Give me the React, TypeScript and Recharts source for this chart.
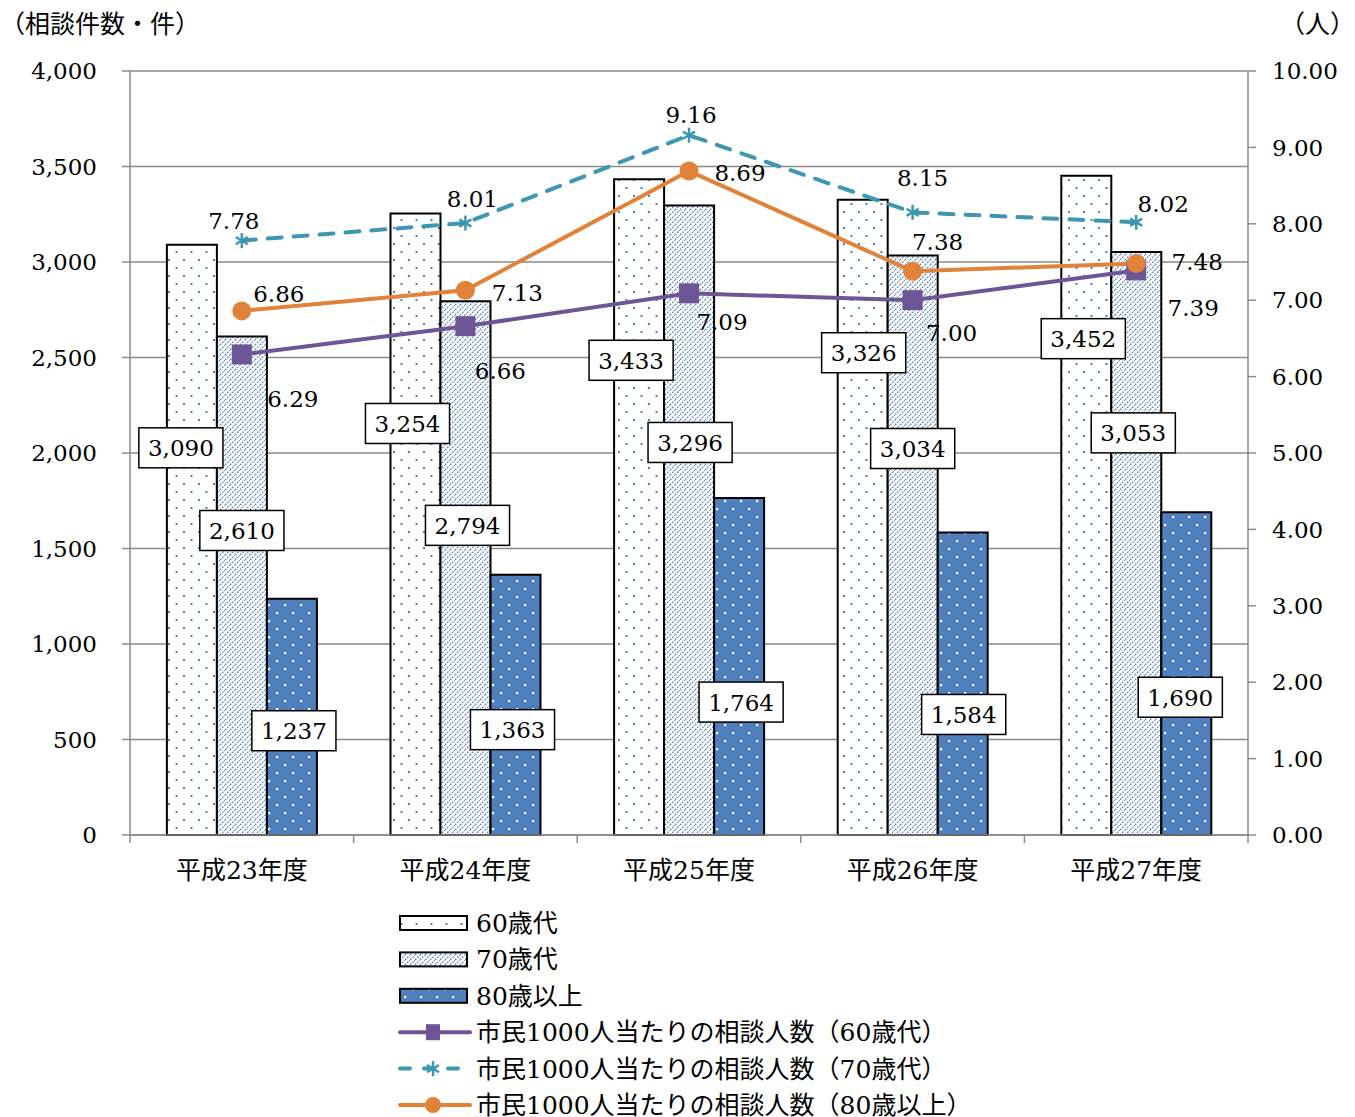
import React from "react";
import {
  ComposedChart,
  Bar,
  Line,
  XAxis,
  YAxis,
  CartesianGrid,
  LabelList,
} from "recharts";

// 相談件数（棒）と市民1000人当たりの相談人数（折れ線）
const years = ["平成23年度", "平成24年度", "平成25年度", "平成26年度", "平成27年度"];
const count60 = [3090, 3254, 3433, 3326, 3452];
const count70 = [2610, 2794, 3296, 3034, 3053];
const count80 = [1237, 1363, 1764, 1584, 1690];
const rate60 = [6.29, 6.66, 7.09, 7.0, 7.39];
const rate70 = [7.78, 8.01, 9.16, 8.15, 8.02];
const rate80 = [6.86, 7.13, 8.69, 7.38, 7.48];
const leftTicks = [0, 500, 1000, 1500, 2000, 2500, 3000, 3500, 4000];
const rightTicks = [0, 1, 2, 3, 4, 5, 6, 7, 8, 9, 10];

// ラベルの置き場所（棒の上端中央／点からのずらし量, px）
const nudge60 = [[-11, 203], [-8, 210], [-8, 181], [1, 153], [-3, 163]];
const nudge70 = [[0, 194], [2, 224], [1, 237], [0, 193], [-3, 181]];
const nudge80 = [[2, 132], [-3, 155], [2, 204], [1, 182], [-6, 185]];
const nudgeR60 = [[51, 44], [35, 44], [33, 28], [39, 32], [57, 37]];
const nudgeR70 = [[-8, -20], [7, -25], [2, -21], [10, -35], [27, -19]];
const nudgeR80 = [[37, -17], [52, 2], [51, 1], [25, -30], [61, -2]];

const data = years.map((year, i) => ({
  year,
  c60: count60[i],
  c70: count70[i],
  c80: count80[i],
  r60: rate60[i],
  r70: rate70[i],
  r80: rate80[i],
}));

const W = 1355;
const H = 1117;
const LEFT_W = 130;
const RIGHT_W = 107;
const TOP = 71;
const X_AXIS_H = 40;
const BOTTOM = 242;
const band = (W - LEFT_W - RIGHT_W) / years.length;

const FONT = "'DejaVu Serif', 'Noto Sans CJK JP', serif";
const GRAY = "#8a8a8a";
const BLUE = "#4f7fbd";
const PURPLE = "#6e5596";
const TEAL = "#3d97b1";
const ORANGE = "#e0823a";

const fmtCount = (v: number) => v.toLocaleString("en-US");

const CategoryTick = (props: any) => {
  const { x, y, payload, index } = props;
  const left = x - band / 2;
  const right = x + band / 2;
  return (
    <g>
      <line x1={left} x2={left} y1={y} y2={y + 8} stroke={GRAY} strokeWidth={1.5} />
      {index === years.length - 1 && (
        <line x1={right} x2={right} y1={y} y2={y + 8} stroke={GRAY} strokeWidth={1.5} />
      )}
      <text x={x} y={y + 44} textAnchor="middle" fontSize={25} fontFamily={FONT} fill="#000">
        {payload.value}
      </text>
    </g>
  );
};

// 棒の中に置く白抜きの枠付きラベル
const boxLabel = (nudge: number[][]) => (props: any) => {
  const x = Number(props.x);
  const y = Number(props.y);
  const width = Number(props.width);
  const [dx, dy] = nudge[props.index] || [0, 0];
  const text = fmtCount(Number(props.value));
  const w = (text.length - 1) * 14.7 + 7.3 + 18;
  const cx = x + width / 2 + dx;
  const cy = y + dy;
  return (
    <g>
      <rect x={cx - w / 2} y={cy - 20} width={w} height={40} fill="#fff" stroke="#000" strokeWidth={1.5} />
      <text x={cx} y={cy + 8.5} textAnchor="middle" fontSize={23} fontFamily={FONT} fill="#000">
        {text}
      </text>
    </g>
  );
};

const rateLabel = (nudge: number[][]) => (props: any) => {
  const x = Number(props.x);
  const y = Number(props.y);
  const [dx, dy] = nudge[props.index] || [0, 0];
  return (
    <text x={x + dx} y={y + dy + 8.5} textAnchor="middle" fontSize={23} fontFamily={FONT} fill="#000">
      {Number(props.value).toFixed(2)}
    </text>
  );
};

const SquareDot = (props: any) => {
  const { cx, cy, index } = props;
  return <rect key={index} x={cx - 10} y={cy - 10} width={20} height={20} fill={PURPLE} />;
};

const StarDot = (props: any) => {
  const { cx, cy, index } = props;
  const r = 7.5;
  const d = r * 0.8;
  return (
    <g key={index} stroke={TEAL} strokeWidth={2.5}>
      <line x1={cx} y1={cy - r} x2={cx} y2={cy + r} />
      <line x1={cx - d} y1={cy - d * 0.6} x2={cx + d} y2={cy + d * 0.6} />
      <line x1={cx - d} y1={cy + d * 0.6} x2={cx + d} y2={cy - d * 0.6} />
    </g>
  );
};

const CircleDot = (props: any) => {
  const { cx, cy, index } = props;
  return <circle key={index} cx={cx} cy={cy} r={9.5} fill={ORANGE} />;
};

const Patterns = () => (
  <defs>
    <pattern id="dots60" width="15" height="16" patternUnits="userSpaceOnUse">
      <rect width="15" height="16" fill="#fff" />
      <rect x="3" y="3" width="2" height="2" fill={BLUE} />
      <rect x="10.5" y="11" width="2" height="2" fill={BLUE} />
    </pattern>
    <pattern id="hatch70" width="5" height="5" patternUnits="userSpaceOnUse">
      <rect width="5" height="5" fill="#fff" />
      <path d="M0,5 L5,0" stroke={BLUE} strokeWidth="1.3" strokeDasharray="1.8 1.2" />
    </pattern>
    <pattern id="dots80" width="16" height="16" patternUnits="userSpaceOnUse">
      <rect width="16" height="16" fill={BLUE} />
      <rect x="4" y="4" width="2.2" height="2.2" fill="#fff" />
      <rect x="12" y="12" width="2.2" height="2.2" fill="#fff" />
    </pattern>
  </defs>
);

const legendBars = [
  { label: "60歳代", fill: "url(#dots60)" },
  { label: "70歳代", fill: "url(#hatch70)" },
  { label: "80歳以上", fill: "url(#dots80)" },
];
const legendLines = [
  { label: "市民1000人当たりの相談人数（60歳代）", kind: "square" },
  { label: "市民1000人当たりの相談人数（70歳代）", kind: "star" },
  { label: "市民1000人当たりの相談人数（80歳以上）", kind: "circle" },
];

const Overlay = () => {
  const lx = 400;
  const tx = 476;
  const rowY = (i: number) => 923 + i * 36.4;
  return (
    <svg
      width={W}
      height={H}
      style={{ position: "absolute", left: 0, top: 0, pointerEvents: "none" }}
    >
      <text x={0} y={33} fontSize={25} fontFamily={FONT} fill="#000">
        （相談件数・件）
      </text>
      <text x={W} y={33} textAnchor="end" fontSize={25} fontFamily={FONT} fill="#000">
        （人）
      </text>
      {legendBars.map((b, i) => (
        <g key={b.label}>
          <rect x={lx} y={rowY(i) - 7} width={67} height={14} fill={b.fill} stroke="#000" strokeWidth={2} />
          <text x={tx} y={rowY(i) + 9} fontSize={25} fontFamily={FONT} fill="#000">
            {b.label}
          </text>
        </g>
      ))}
      {legendLines.map((l, j) => {
        const y = rowY(j + 3);
        const cx = lx + 33;
        return (
          <g key={l.label}>
            {l.kind === "square" && (
              <>
                <line x1={lx} x2={lx + 70} y1={y} y2={y} stroke={PURPLE} strokeWidth={4} strokeLinecap="round" />
                <rect x={cx - 7} y={y - 8} width={14} height={16} fill={PURPLE} />
              </>
            )}
            {l.kind === "star" && (
              <>
                <line x1={lx} x2={lx + 70} y1={y} y2={y} stroke={TEAL} strokeWidth={4} strokeLinecap="round" strokeDasharray="10 14" />
                <StarDot cx={cx} cy={y} index={0} />
              </>
            )}
            {l.kind === "circle" && (
              <>
                <line x1={lx} x2={lx + 70} y1={y} y2={y} stroke={ORANGE} strokeWidth={4} strokeLinecap="round" />
                <circle cx={cx} cy={y} r={8} fill={ORANGE} />
              </>
            )}
            <text x={tx} y={y + 9} fontSize={25} fontFamily={FONT} fill="#000">
              {l.label}
            </text>
          </g>
        );
      })}
    </svg>
  );
};

export default function App() {
  return (
    <div
      style={{
        position: "absolute",
        left: 0,
        top: 0,
        width: W,
        height: H,
        background: "#fff",
        overflow: "hidden",
      }}
    >
      <ComposedChart
        width={W}
        height={H}
        data={data}
        margin={{ top: TOP, right: 0, bottom: BOTTOM, left: 0 }}
        barCategoryGap="16.5%"
        barGap={0}
      >
        <Patterns />
        <CartesianGrid yAxisId="left" vertical={false} stroke={GRAY} strokeWidth={1.5} />
        <XAxis
          dataKey="year"
          height={X_AXIS_H}
          interval={0}
          tickLine={false}
          tickSize={0}
          tickMargin={0}
          axisLine={{ stroke: GRAY, strokeWidth: 1.5 }}
          tick={<CategoryTick />}
        />
        <YAxis
          yAxisId="left"
          width={LEFT_W}
          domain={[0, 4000]}
          ticks={leftTicks}
          interval={0}
          tickFormatter={fmtCount}
          tickSize={8}
          tickMargin={25}
          axisLine={{ stroke: GRAY, strokeWidth: 1.5 }}
          tickLine={{ stroke: GRAY, strokeWidth: 1.5 }}
          tick={{ fill: "#000", fontSize: 23, fontFamily: FONT }}
        />
        <YAxis
          yAxisId="right"
          orientation="right"
          width={RIGHT_W}
          domain={[0, 10]}
          ticks={rightTicks}
          interval={0}
          tickFormatter={(v: number) => v.toFixed(2)}
          tickSize={8}
          tickMargin={16}
          axisLine={{ stroke: GRAY, strokeWidth: 1.5 }}
          tickLine={{ stroke: GRAY, strokeWidth: 1.5 }}
          tick={{ fill: "#000", fontSize: 23, fontFamily: FONT, textAnchor: "start" }}
        />
        <Bar yAxisId="left" dataKey="c60" fill="url(#dots60)" stroke="#000" strokeWidth={2} isAnimationActive={false}>
          <LabelList dataKey="c60" content={boxLabel(nudge60)} />
        </Bar>
        <Bar yAxisId="left" dataKey="c70" fill="url(#hatch70)" stroke="#000" strokeWidth={2} isAnimationActive={false}>
          <LabelList dataKey="c70" content={boxLabel(nudge70)} />
        </Bar>
        <Bar yAxisId="left" dataKey="c80" fill="url(#dots80)" stroke="#000" strokeWidth={2} isAnimationActive={false}>
          <LabelList dataKey="c80" content={boxLabel(nudge80)} />
        </Bar>
        <Line
          yAxisId="right"
          dataKey="r60"
          stroke={PURPLE}
          strokeWidth={4}
          dot={SquareDot}
          activeDot={false}
          isAnimationActive={false}
        >
          <LabelList dataKey="r60" content={rateLabel(nudgeR60)} />
        </Line>
        <Line
          yAxisId="right"
          dataKey="r70"
          stroke={TEAL}
          strokeWidth={4}
          strokeDasharray="14 12"
          strokeLinecap="round"
          dot={StarDot}
          activeDot={false}
          isAnimationActive={false}
        >
          <LabelList dataKey="r70" content={rateLabel(nudgeR70)} />
        </Line>
        <Line
          yAxisId="right"
          dataKey="r80"
          stroke={ORANGE}
          strokeWidth={4}
          dot={CircleDot}
          activeDot={false}
          isAnimationActive={false}
        >
          <LabelList dataKey="r80" content={rateLabel(nudgeR80)} />
        </Line>
      </ComposedChart>
      <Overlay />
    </div>
  );
}
